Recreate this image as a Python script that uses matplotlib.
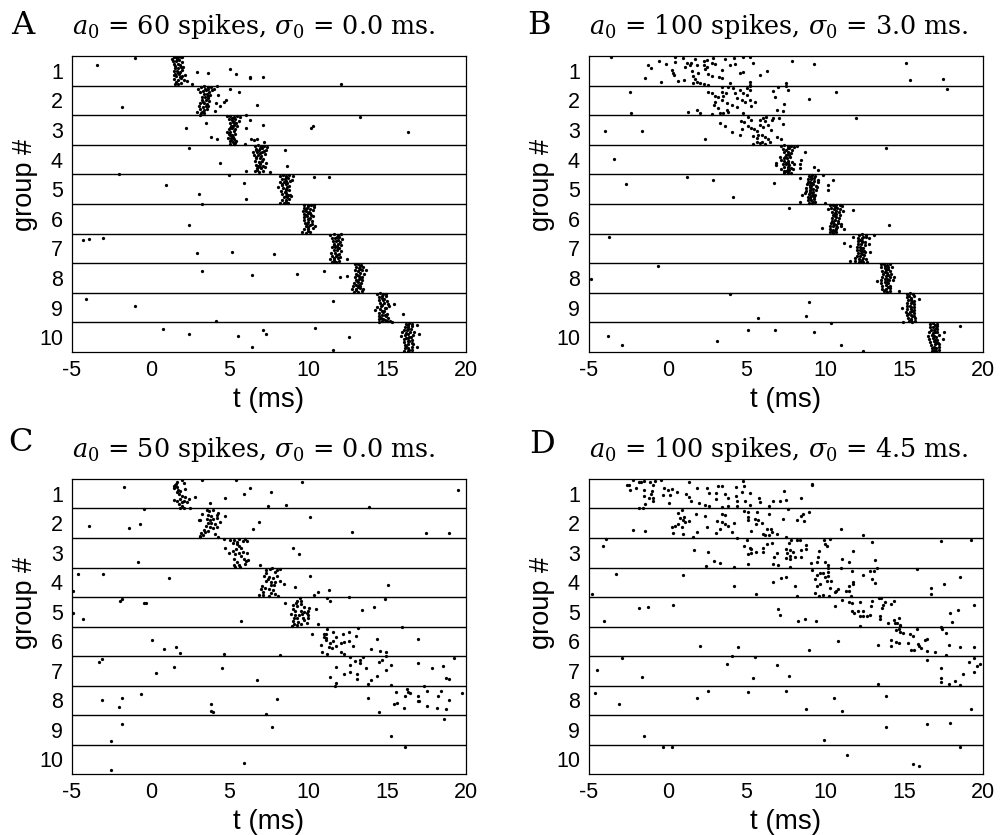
import matplotlib
matplotlib.use("Agg")
import matplotlib.pyplot as plt

titles = [r"$a_0$ = 60 spikes, $\sigma_0$ = 0.0 ms.", r"$a_0$ = 100 spikes, $\sigma_0$ = 3.0 ms.",
          r"$a_0$ = 50 spikes, $\sigma_0$ = 0.0 ms.", r"$a_0$ = 100 spikes, $\sigma_0$ = 4.5 ms."]
letters = ["A", "B", "C", "D"]
groups = [1, 2, 3, 4, 5, 6, 7, 8, 9, 10]
t_ticks = [-5, 0, 5, 10, 15, 20]

# (t in ms, position on the group axis)
a_bursts = [
 (1.45,.52),(1.6,.54),(1.75,.53),(1.9,.55),(2.0,.52),(1.4,.68),(1.6,.66),(1.8,.63),(1.95,.7),(1.5,.78),(1.7,.76),(1.85,.8),(1.55,.9),(1.7,.92),(1.9,.88),(2.05,.86),(1.5,1.02),(1.65,1.0),(1.85,1.04),(2.0,.98),(1.45,1.14),(1.6,1.18),(1.8,1.12),(1.95,1.16),(2.15,1.14),(1.5,1.28),(1.7,1.3),(1.9,1.26),(2.1,1.32),(2.3,1.36),(1.55,1.44),(1.75,1.46),(1.9,1.42),
 (3.0,1.6),(3.2,1.55),(3.4,1.53),(3.6,1.54),(3.8,1.56),(4.0,1.6),(3.3,1.68),(3.5,1.66),(3.7,1.7),(3.9,1.64),(3.35,1.8),(3.55,1.78),(3.75,1.82),(3.45,1.9),(3.6,1.92),(3.25,1.98),(3.5,2.0),(3.7,2.02),(3.1,2.08),(3.4,2.1),(3.55,2.12),(3.05,2.2),(3.3,2.22),(3.5,2.2),(3.15,2.3),(3.35,2.32),(3.55,2.28),(2.95,2.4),(3.2,2.42),(3.4,2.44),(3.15,2.48),
 (4.85,2.54),(5.05,2.52),(5.25,2.55),(5.45,2.53),(5.65,2.56),(4.95,2.64),(5.15,2.66),(5.35,2.62),(5.6,2.68),(5.0,2.76),(5.2,2.74),(5.4,2.78),(5.1,2.86),(5.3,2.84),(5.5,2.88),(4.95,2.96),(5.15,2.94),(5.35,2.98),(4.85,3.06),(5.05,3.08),(5.25,3.04),(5.0,3.16),(5.15,3.18),(5.35,3.14),(4.9,3.28),(5.1,3.26),(5.3,3.3),(5.0,3.38),(5.2,3.4),(5.4,3.36),(5.05,3.46),(5.25,3.47),
 (6.6,3.54),(6.8,3.52),(7.0,3.55),(7.2,3.53),(7.4,3.56),(6.65,3.64),(6.85,3.66),(7.05,3.62),(7.3,3.68),(6.5,3.76),(6.75,3.74),(6.95,3.78),(7.2,3.72),(6.55,3.86),(6.8,3.84),(7.0,3.88),(7.25,3.82),(6.7,3.96),(6.9,3.94),(7.15,3.98),(6.6,4.06),(6.85,4.08),(7.05,4.04),(7.3,4.1),(6.65,4.18),(6.9,4.16),(7.15,4.2),(6.75,4.28),(7.0,4.3),(7.25,4.26),(6.6,4.4),(6.85,4.42),(7.1,4.38),
 (8.2,4.54),(8.4,4.52),(8.6,4.55),(8.8,4.53),(9.0,4.56),(8.3,4.64),(8.5,4.66),(8.7,4.62),(8.95,4.68),(8.2,4.76),(8.45,4.74),(8.65,4.78),(8.85,4.72),(8.35,4.86),(8.55,4.84),(8.75,4.88),(8.1,4.94),(8.4,4.96),(8.6,4.98),(8.25,5.06),(8.5,5.08),(8.75,5.04),(8.35,5.16),(8.6,5.14),(8.85,5.18),(8.45,5.26),(8.65,5.28),(8.9,5.24),(8.3,5.36),(8.55,5.38),(8.8,5.34),(8.2,5.46),(8.45,5.47),(8.7,5.45),
 (9.75,5.53),(9.95,5.52),(10.15,5.54),(10.35,5.52),(9.7,5.64),(9.9,5.62),(10.1,5.66),(10.35,5.6),(9.65,5.74),(9.85,5.72),(10.05,5.76),(10.3,5.7),(9.75,5.84),(9.95,5.82),(10.15,5.86),(9.7,5.94),(9.9,5.92),(10.1,5.96),(10.3,5.9),(9.75,6.04),(9.95,6.02),(10.2,6.06),(9.8,6.14),(10.0,6.12),(10.25,6.16),(9.85,6.24),(10.1,6.22),(10.4,6.26),(9.75,6.34),(10.0,6.36),(10.3,6.32),(9.6,6.46),(9.85,6.47),(10.1,6.44),
 (11.4,6.54),(11.65,6.52),(11.85,6.55),(12.05,6.53),(11.5,6.64),(11.7,6.66),(11.95,6.62),(12.15,6.68),(11.55,6.76),(11.75,6.74),(12.0,6.78),(11.6,6.86),(11.85,6.84),(12.1,6.88),(11.5,6.96),(11.7,6.94),(11.95,6.98),(11.6,7.06),(11.8,7.04),(12.05,7.08),(11.45,7.16),(11.7,7.14),(11.95,7.18),(11.5,7.26),(11.75,7.24),(12.0,7.28),(11.4,7.36),(11.65,7.38),(11.9,7.34),(11.5,7.46),(11.75,7.47),(11.95,7.44),
 (12.95,7.54),(13.15,7.52),(13.35,7.55),(13.0,7.64),(13.2,7.66),(13.45,7.62),(12.95,7.74),(13.15,7.76),(13.4,7.72),(13.65,7.74),(13.0,7.86),(13.25,7.84),(13.5,7.88),(12.95,7.96),(13.2,7.94),(13.4,7.98),(13.0,8.06),(13.2,8.04),(13.4,8.08),(12.9,8.16),(13.15,8.14),(13.35,8.18),(12.8,8.26),(13.05,8.24),(13.3,8.28),(12.75,8.36),(13.0,8.38),(13.25,8.34),(13.45,8.36),(12.9,8.46),(13.15,8.47),(13.4,8.44),
 (14.35,8.54),(14.55,8.52),(14.75,8.55),(14.95,8.53),(14.45,8.64),(14.65,8.66),(14.9,8.62),(14.5,8.76),(14.75,8.74),(15.0,8.78),(14.55,8.86),(14.8,8.84),(15.05,8.88),(14.35,8.98),(14.6,8.96),(14.85,9.0),(15.1,8.96),(14.25,9.08),(14.55,9.06),(14.8,9.1),(14.5,9.18),(14.75,9.16),(15.0,9.2),(14.45,9.28),(14.7,9.26),(14.95,9.3),(14.5,9.38),(14.75,9.4),(15.05,9.36),(14.45,9.47),(14.7,9.46),(15.0,9.45),(15.2,9.44),
 (16.2,9.54),(16.4,9.52),(16.6,9.55),(16.1,9.64),(16.3,9.66),(16.55,9.62),(16.05,9.74),(16.25,9.76),(16.5,9.72),(15.95,9.84),(16.2,9.86),(16.45,9.82),(16.7,9.84),(15.9,9.96),(16.15,9.94),(16.4,9.98),(16.65,9.92),(16.05,10.06),(16.3,10.04),(16.55,10.08),(16.05,10.16),(16.3,10.14),(16.55,10.18),(16.1,10.26),(16.35,10.24),(16.65,10.22),(16.1,10.36),(16.35,10.38),(16.6,10.34),(16.05,10.46),(16.3,10.47),(16.55,10.44)]

a_fill = [(1.35,.6),(1.65,.6),(1.55,.84),(1.75,1.08),(1.55,1.1),(1.85,1.22),(1.62,1.38),
 (3.1,1.72),(3.45,1.6),(3.6,1.62),(3.25,1.88),(3.65,1.84),(3.3,2.05),(3.6,2.18),(3.25,2.38),
 (5.15,2.59),(5.25,2.72),(5.2,2.85),(5.05,2.92),(4.95,3.12),(5.2,3.24),(5.1,3.33),(5.35,3.44),
 (6.95,3.6),(6.7,3.68),(6.7,3.9),(7.05,3.76),(6.95,4.1),(6.8,4.22),(6.95,4.24),(6.75,4.36),
 (8.6,4.6),(8.55,4.72),(8.65,4.92),(8.3,4.82),(8.6,5.02),(8.7,5.2),(8.55,5.22),(8.55,5.42),
 (10.0,5.58),(9.8,5.68),(10.1,5.8),(9.85,5.88),(10.05,6.0),(9.9,6.18),(10.0,6.28),(9.95,6.42),
 (11.8,6.6),(11.85,6.7),(11.8,6.92),(11.65,6.9),(11.9,7.0),(11.8,7.22),(11.65,7.32),(11.65,7.44),
 (13.25,7.6),(13.3,7.7),(13.1,7.9),(13.3,8.0),(13.1,8.1),(13.2,8.22),(13.15,8.32),(13.05,8.42),
 (14.7,8.6),(14.8,8.7),(14.7,8.92),(14.95,9.02),(14.65,9.12),(14.85,9.24),(14.6,9.34),(14.85,9.42),
 (16.35,9.6),(16.35,9.72),(16.3,9.9),(16.5,10.0),(16.2,10.02),(16.4,10.12),(16.2,10.3),(16.4,10.42)]

a_strays = [(-3.4,.8),(-1.03,.57),(2.94,1.05),(3.64,1.06),(5.01,.94),(5.43,1.12),(6.32,1.2),(6.32,1.24),(7.1,1.2),(12.08,1.43),(2.64,1.46),
 (-1.81,2.23),(5.01,1.61),(5.62,1.71),(6.72,2.16),(4.78,1.99),(4.67,2.04),(4.42,2.19),(4.25,1.81),(4.14,2.1),(4.1,2.35),(4.2,1.53),
 (2.26,2.93),(3.53,2.76),(13.26,2.56),(10.27,2.88),(10.18,2.94),(16.33,3.07),(3.85,3.22),(4.23,3.31),(6.32,2.66),(7.1,2.84),(6.02,2.94),(6.02,2.5),(6.38,3.31),(6.53,3.33),(6.74,3.29),(5.96,3.47),
 (2.45,3.6),(4.42,4.11),(8.49,3.68),(8.64,4.2),(6.02,4.38),(4.95,4.51),(-2.02,4.47),(7.58,4.43),(7.2,3.4),
 (.98,4.86),(3.04,5.16),(5.92,4.8),(6.02,5.32),(10.37,4.59),(11.28,4.59),(3.23,5.5),(2.45,6.22),
 (-4.28,6.71),(-3.9,6.69),(-3.02,6.65),(2.94,7.15),(5.14,7.11),(7.82,7.19),(12.48,7.35),
 (3.23,7.76),(6.42,7.9),(9.29,7.85),(10.98,7.76),(11.98,7.98),(12.46,7.92),
 (-4.09,8.71),(-1.03,8.93),(11.58,8.77),(15.46,8.88),(16.03,9.22),(4.14,9.44),(15.29,9.47),
 (.76,9.72),(2.45,9.9),(5.54,9.97),(6.42,10.32),(7.1,9.77),(7.31,9.9),(10.39,9.7),(11.58,10.44),(12.57,10.0),(16.92,9.6),(17.04,9.88),(16.92,10.32)]

b_bursts = [
 (7.2,3.54),(7.4,3.52),(7.6,3.55),(7.8,3.53),(8.0,3.56),(7.3,3.64),(7.5,3.66),(7.7,3.62),(7.9,3.68),(7.4,3.76),(7.6,3.74),(7.8,3.78),(7.5,3.86),(7.7,3.84),(7.15,3.92),(7.35,3.94),(7.55,3.96),(7.75,3.92),(7.2,4.02),(7.4,4.06),(7.6,4.04),(7.85,4.08),(6.85,4.12),(6.85,4.18),(7.3,4.16),(7.5,4.14),(7.7,4.18),(8.0,4.14),(7.4,4.26),(7.6,4.24),(7.8,4.28),(7.2,4.32),(7.5,4.38),(7.7,4.36),(7.95,4.32),(7.4,4.45),(7.6,4.46),(7.8,4.44),
 (8.95,4.54),(9.15,4.52),(9.35,4.55),(8.9,4.64),(9.1,4.66),(9.3,4.62),(9.55,4.68),(8.9,4.74),(9.05,4.76),(9.25,4.72),(9.5,4.76),(8.85,4.84),(9.0,4.86),(9.2,4.82),(9.4,4.88),(8.75,4.96),(9.0,4.94),(9.2,4.98),(9.45,4.92),(8.8,5.06),(9.0,5.04),(9.2,5.08),(9.4,5.02),(8.7,5.14),(8.95,5.16),(9.15,5.12),(9.35,5.18),(8.9,5.26),(9.1,5.24),(9.3,5.28),(8.9,5.36),(9.1,5.38),(9.3,5.34),(8.95,5.45),(9.15,5.47),(9.35,5.44),
 (10.3,5.54),(10.5,5.52),(10.7,5.55),(10.9,5.53),(11.05,5.56),(10.35,5.64),(10.55,5.66),(10.75,5.62),(10.95,5.68),(10.45,5.76),(10.65,5.74),(10.85,5.78),(11.1,5.74),(10.5,5.86),(10.7,5.84),(10.9,5.88),(10.45,5.96),(10.65,5.94),(10.85,5.96),(10.4,6.06),(10.6,6.04),(10.8,6.08),(10.35,6.14),(10.55,6.16),(10.8,6.14),(11.0,6.18),(10.3,6.26),(10.5,6.24),(10.75,6.28),(11.0,6.26),(10.3,6.36),(10.5,6.38),(10.7,6.34),(11.15,6.36),(10.3,6.46),(10.5,6.47),(10.7,6.45),
 (12.15,6.54),(12.35,6.52),(12.55,6.55),(12.1,6.64),(12.3,6.66),(12.55,6.62),(12.75,6.66),(12.1,6.76),(12.3,6.74),(12.5,6.78),(12.05,6.86),(12.25,6.84),(12.5,6.88),(12.0,6.96),(12.2,6.94),(12.4,6.98),(12.0,7.06),(12.2,7.04),(12.45,7.08),(12.05,7.14),(12.25,7.16),(12.5,7.12),(12.0,7.24),(12.2,7.26),(12.45,7.22),(11.9,7.34),(12.15,7.36),(12.4,7.32),(12.6,7.36),(11.9,7.44),(12.15,7.46),(12.4,7.45),(12.65,7.47),
 (13.5,7.54),(13.7,7.52),(13.9,7.55),(14.1,7.53),(13.55,7.64),(13.75,7.66),(14.0,7.62),(14.25,7.64),(13.6,7.76),(13.85,7.74),(14.1,7.78),(13.65,7.86),(13.9,7.84),(14.15,7.88),(13.6,7.96),(13.85,7.94),(14.1,7.98),(14.35,7.96),(13.55,8.06),(13.8,8.04),(14.05,8.08),(14.3,8.06),(13.5,8.16),(13.75,8.14),(14.0,8.18),(13.6,8.26),(13.85,8.24),(14.1,8.28),(13.6,8.36),(13.85,8.38),(14.1,8.34),(13.7,8.45),(13.9,8.47),(14.1,8.44),
 (15.15,8.54),(15.35,8.52),(15.55,8.55),(15.2,8.64),(15.4,8.66),(15.6,8.62),(15.25,8.76),(15.45,8.74),(15.65,8.78),(15.2,8.86),(15.4,8.84),(15.6,8.88),(15.15,8.96),(15.35,8.94),(15.6,8.98),(15.2,9.06),(15.4,9.04),(15.65,9.08),(15.1,9.16),(15.35,9.14),(15.6,9.18),(15.15,9.26),(15.4,9.24),(15.65,9.28),(15.25,9.36),(15.45,9.38),(15.7,9.34),(15.3,9.46),(15.5,9.47),(15.7,9.45),
 (16.65,9.54),(16.85,9.52),(17.05,9.55),(16.65,9.64),(16.85,9.66),(17.1,9.62),(16.7,9.74),(16.9,9.76),(17.1,9.72),(16.6,9.84),(16.8,9.86),(17.05,9.82),(16.5,9.96),(16.75,9.94),(17.0,9.98),(17.2,9.92),(16.6,10.06),(16.85,10.04),(17.1,10.08),(16.65,10.16),(16.9,10.14),(17.15,10.18),(16.7,10.26),(16.95,10.24),(17.2,10.22),(16.75,10.36),(17.0,10.38),(17.2,10.34),(16.75,10.46),(17.0,10.47),(17.2,10.44)]

b_fill = [(7.6,3.6),(7.65,3.82),(7.45,3.9),(7.5,4.1),(7.65,4.12),(7.6,4.32),(7.4,4.4),(7.6,4.4),
 (9.1,4.6),(9.15,4.8),(9.1,4.9),(9.1,5.0),(9.05,5.1),(9.2,5.2),(9.05,5.3),(9.2,5.42),
 (10.6,5.6),(10.6,5.8),(10.6,5.9),(10.5,6.1),(10.65,6.2),(10.65,6.3),(10.6,6.42),(10.4,6.4),
 (12.4,6.6),(12.2,6.7),(12.35,6.8),(12.3,6.98),(12.3,7.1),(12.3,7.2),(12.3,7.38),(12.25,7.44),
 (13.8,7.6),(13.95,7.7),(13.8,7.8),(13.95,7.9),(13.9,8.02),(13.9,8.12),(13.95,8.3),(13.8,8.42),
 (15.3,8.6),(15.4,8.7),(15.5,8.82),(15.4,8.98),(15.5,9.1),(15.25,9.2),(15.5,9.3),(15.4,9.42),
 (16.95,9.6),(17.0,9.7),(16.95,9.82),(16.9,9.96),(16.95,10.1),(17.0,10.2),(16.9,10.32),(16.9,10.42)]

b_strays = [(-3.6,.53),(-.54,.66),(-1.24,.8),(-1.07,.92),(-1.43,1.24),(-.44,1.37),(-.14,.77),(.45,.54),(.45,.7),(.94,.57),(.24,.97),(.3,1.08),(.41,1.15),(.66,1.35),(1.04,1.31),(1.09,.88),(1.19,.75),(1.4,.8),(1.47,.72),(1.51,.99),(1.72,.61),(1.83,.8),(1.61,1.17),(1.93,1.08),(1.72,1.29),(1.83,1.37),(1.61,1.42),(2.04,1.4),(2.29,1.46),(2.57,1.48),(2.29,.66),(2.46,.63),(2.84,.58),(2.29,.8),(2.5,.86),(2.35,.95),(2.78,.72),(2.99,.77),(2.57,1.11),(2.82,1.17),(3.41,.97),(3.26,1.2),(3.47,1.25),(3.66,.61),(4.21,.57),(3.94,.8),(4.26,.77),(4.78,.52),(5.2,.55),(5.42,.72),(4.57,1.08),(4.78,1.03),(5.84,1.15),(6.31,1.02),(7.91,.68),(9.29,.78),(15.14,.74),(15.35,1.3),(17.44,1.28),(3.94,1.42),(5.2,1.39),(5.2,1.48),
 (-2.42,1.71),(-2.34,2.44),(1.26,2.38),(1.83,2.33),(2.04,2.42),(2.78,2.46),(2.57,1.72),(2.78,1.76),(2.99,1.84),(3.2,1.9),(3.41,1.98),(2.99,2.04),(2.95,2.15),(3.2,2.26),(3.52,1.84),(3.69,1.76),(3.41,1.54),(3.45,1.7),(3.83,1.54),(4.15,1.59),(4.26,1.76),(4.57,1.65),(4.78,1.76),(5.0,1.59),(5.0,1.81),(4.36,1.93),(4.68,1.98),(4.89,2.07),(5.2,1.98),(5.52,2.04),(5.31,2.19),(3.73,2.1),(4.05,2.15),(4.36,2.23),(4.78,2.43),(3.73,2.32),(3.52,2.41),(3.31,2.43),(3.83,2.38),(6.69,1.67),(7.0,1.56),(7.49,1.42),(7.53,1.53),(7.6,1.65),(6.81,1.9),(7.4,2.12),(6.9,2.33),(7.28,2.37),(8.99,1.95),(10.68,1.7),(17.74,1.61),(5.2,1.52),(5.2,1.65),
 (11.97,2.6),(-4.0,3.04),(-1.62,3.03),(2.35,3.3),(3.33,2.78),(3.64,2.87),(4.05,3.08),(4.57,3.17),(4.72,2.97),(4.64,2.68),(4.85,2.74),(5.1,2.55),(5.31,2.66),(5.1,2.86),(5.25,2.92),(5.46,2.97),(5.63,3.05),(5.42,3.2),(5.63,3.28),(5.42,3.48),(5.63,3.39),(5.84,2.66),(6.01,2.6),(6.16,2.71),(5.84,2.83),(6.05,2.9),(6.37,2.83),(6.52,3.0),(5.95,3.16),(6.16,3.24),(6.37,3.31),(5.95,3.39),(6.16,3.47),(6.47,3.39),(6.9,3.24),(7.21,3.29),(6.69,2.58),(7.05,2.58),(7.33,2.81),(5.84,3.44),(5.74,3.16),(6.26,2.55),(6.58,2.66),
 (13.87,3.6),(-3.42,3.98),(8.21,3.55),(8.69,3.76),(8.48,4.03),(8.38,4.14),(8.38,4.29),
 (-2.63,4.81),(1.23,4.58),(2.84,4.68),(4.13,5.28),(6.71,4.79),(9.29,4.24),(9.5,4.35),(9.86,4.52),(10.49,4.7),(10.17,4.86),(10.17,5.03),(8.4,4.63),(8.4,5.42),(8.5,5.2),(9.96,5.45),
 (7.7,5.62),(9.79,6.31),(11.76,5.69),(14.06,6.2),(10.17,5.67),
 (-3.71,6.61),(11.19,6.81),(11.57,6.92),(11.76,6.63),(13.07,6.56),(11.59,7.43),(12.86,7.11),(12.78,6.85),
 (-.65,7.59),(-4.9,8.03),(13.28,8.1),(14.65,8.43),
 (3.94,8.55),(8.99,8.81),(8.8,9.27),(5.71,9.35),(10.38,9.51),(14.93,9.49),(15.94,8.72),(14.89,9.0),
 (-3.82,9.97),(-2.93,10.27),(3.14,10.13),(5.12,9.77),(6.81,9.74),(9.29,9.81),(11.0,10.25),(12.37,10.46),(18.52,9.61),(17.53,9.81),(17.46,10.06)]

c_bursts = [
 (1.46,.73),(1.57,.67),(1.67,.78),(1.46,.8),(2.13,.63),(2.2,.83),(1.67,.95),(1.78,1.0),(1.99,1.06),(2.2,1.11),(2.41,1.17),(1.46,1.2),(1.67,1.23),(1.88,1.17),(2.09,1.23),(1.78,1.34),(1.99,1.4),(2.31,1.29),(2.48,1.47),(1.84,1.49),(2.09,1.49),(1.67,.61),(1.71,.86),(1.55,.72),(1.85,.9),(1.95,1.28),
 (3.25,1.68),(3.1,1.88),(3.55,1.55),(3.7,1.6),(3.95,1.56),(4.25,1.64),(3.6,1.72),(3.85,1.75),(4.2,1.72),(3.55,1.85),(3.75,1.88),(3.95,1.85),(4.2,1.82),(3.6,2.0),(3.8,1.98),(4.05,2.02),(4.4,1.95),(3.5,2.1),(3.75,2.12),(3.95,2.16),(4.2,2.14),(3.4,2.22),(3.6,2.25),(3.2,2.32),(3.45,2.3),(3.1,2.42),(3.3,2.4),(3.15,2.47),(4.1,2.38),(4.25,2.45),
 (4.65,2.55),(5.0,2.58),(5.25,2.56),(5.45,2.62),(5.6,2.55),(5.85,2.6),(6.0,2.54),(6.1,2.6),(5.2,2.68),(5.45,2.72),(5.6,2.78),(5.75,2.85),(5.4,2.88),(5.2,2.95),(4.95,3.0),(5.35,3.05),(5.6,3.0),(5.85,2.98),(6.1,3.02),(5.75,3.12),(5.9,3.2),(5.25,3.2),(5.5,3.3),(6.05,3.28),(6.15,3.25),(5.3,3.4),(5.6,3.4),(5.95,3.38),(5.35,3.48),(5.65,3.47),
 (7.3,3.6),(7.55,3.56),(7.7,3.52),(8.0,3.58),(8.2,3.55),(7.9,3.66),(7.2,3.78),(7.3,3.7),(7.5,3.82),(7.45,3.9),(7.75,3.85),(8.0,3.78),(7.3,3.95),(7.6,3.98),(7.85,4.0),(8.2,3.95),(7.6,4.1),(7.8,4.08),(7.05,4.12),(7.25,4.2),(7.0,4.24),(7.5,4.22),(7.75,4.25),(7.15,4.32),(7.6,4.35),(7.9,4.4),(6.85,4.43),(7.15,4.42),(7.5,4.46),(8.05,4.47),
 (9.45,4.55),(9.3,4.62),(9.5,4.65),(9.2,4.72),(9.05,4.78),(9.3,4.8),(9.55,4.75),(9.75,4.85),(10.05,4.88),(9.0,4.92),(9.15,4.97),(9.5,4.98),(9.75,5.0),(10.0,4.96),(8.9,5.08),(9.15,5.1),(9.4,5.1),(9.6,5.07),(9.9,5.05),(10.0,5.12),(9.1,5.2),(9.3,5.22),(9.65,5.2),(9.95,5.22),(9.05,5.3),(9.35,5.34),(9.7,5.27),(9.1,5.42),(9.3,5.44),(9.5,5.42),(8.95,5.47),(9.9,5.38)]

c_strays = [(-1.71,.78),(-.44,1.51),(1.95,.53),(3.26,.53),(5.43,.52),(9.59,.61),(19.51,.88),(6.32,.8),(5.92,1.01),(7.61,.95),(4.73,1.15),(3.74,1.3),(7.42,1.41),(8.6,1.38),(13.86,1.44),(2.83,1.11),
 (-3.9,2.11),(-1.41,2.16),(-.71,2.01),(3.04,1.9),(4.73,1.77),(6.85,1.95),(6.51,2.19),(10.08,1.79),(12.76,2.3),(17.44,2.34),(18.92,2.32),
 (-.82,3.3),(9.0,2.84),(9.38,3.05),(6.91,3.4),(4.73,2.85),
 (-4.6,3.72),(-3.02,3.73),(1.17,3.87),(-4.96,4.31),(10.08,3.8),(9.17,4.15),(15.06,4.11),(11.28,4.26),(10.58,4.32),(10.37,4.42),(8.43,4.07),
 (-1.85,4.57),(-1.96,4.62),(-.33,4.69),(-.44,4.72),(-4.92,5.04),(-4.3,5.23),(5.73,5.33),(11.17,4.52),(11.38,4.62),(12.57,4.51),(14.87,4.56),(14.15,4.83),(13.37,4.94),(10.58,5.41),(10.48,4.89),(8.49,4.7),
 (.07,5.95),(.85,6.25),(1.57,6.21),(1.84,6.41),(4.63,6.42),(8.22,6.47),(10.2,5.74),(11.17,5.57),(10.96,5.77),(10.96,5.86),(11.09,5.77),(11.09,5.88),(11.09,5.96),(11.58,5.68),(11.77,5.86),(12.17,5.77),(12.57,5.67),(12.99,5.83),(11.58,6.0),(11.38,6.05),(10.79,6.14),(11.28,6.2),(11.47,6.24),(11.77,6.17),(12.08,6.05),(12.23,6.02),(12.57,6.0),(12.86,6.16),(10.88,6.38),(11.17,6.42),(12.08,6.38),(12.27,6.43),(13.96,6.26),(14.36,5.92),(14.55,6.34),(14.95,6.35),(14.95,6.51),(16.94,5.92),(15.95,5.51),(13.16,5.54),
 (-3.31,6.69),(-3.1,6.61),(.36,7.07),(1.46,6.87),(4.54,6.92),(6.72,7.33),(11.77,6.87),(11.36,7.21),(11.77,7.43),(11.66,7.53),(12.27,7.11),(12.67,6.81),(12.67,7.03),(12.97,6.68),(13.26,6.65),(13.26,6.75),(13.07,7.12),(13.07,7.29),(13.45,6.54),(13.66,6.9),(13.96,7.31),(13.75,7.44),(14.36,7.17),(14.45,6.71),(14.66,6.63),(14.95,6.96),(15.25,6.81),(16.94,6.75),(17.85,6.89),(18.54,6.84),(19.22,6.56),(18.73,7.24),(18.92,7.29),(12.67,6.54),(15.25,7.47),
 (-3.1,7.98),(-1.81,7.92),(-2.02,8.23),(-.63,7.79),(3.85,8.12),(3.85,8.37),(3.95,8.41),(8.0,7.97),(7.33,8.45),(13.75,7.92),(14.45,8.41),(15.54,7.71),(16.24,7.61),(16.35,7.72),(16.45,7.74),(16.14,7.87),(15.44,8.13),(15.65,8.11),(16.05,8.26),(16.94,7.85),(16.94,8.03),(17.04,8.02),(17.34,7.53),(17.53,7.7),(17.53,8.18),(18.14,8.27),(18.73,8.3),(18.23,7.84),(18.44,7.67),(18.92,7.99),(19.73,7.75),
 (-1.81,8.81),(-2.51,9.37),(7.71,8.91),(15.25,9.21),(18.63,8.63),
 (16.14,9.6),(5.92,10.13),(-2.51,10.37)]

d_spikes = [(-2.61,.7),(-2.44,.7),(-2.4,.86),(-2.23,.52),(-2.02,.8),(-1.81,.61),(-1.7,.61),(-1.53,.56),(-1.49,.86),(-1.53,1.06),(-1.2,1.15),(-1.13,.59),(-.92,.72),(-.82,.58),(-.44,.54),(-1.03,.92),(-1.09,1.01),(-.92,1.15),(-.92,1.26),(-1.43,1.34),(-1.81,1.49),(-1.56,1.47),(-.25,.79),(-.33,1.04),(.03,.86),(.24,.84),(.14,1.03),(.56,.95),(.07,1.32),(1.15,1.01),(1.34,.59),(1.36,1.12),(1.45,1.23),(1.85,.81),(2.46,.8),(2.63,.97),(2.0,1.32),(2.35,1.37),(2.63,1.4),(3.03,.99),(3.05,1.17),(3.2,.75),(3.47,.74),(3.64,1.02),(3.83,1.15),(3.83,1.4),(3.41,1.45),(4.32,.76),(4.32,1.08),(4.4,1.26),(4.4,1.4),(4.78,.56),(4.85,.75),(4.72,.93),(5.2,.97),(4.93,1.26),(5.2,1.37),(5.8,1.13),(5.84,1.29),(6.43,1.42),(6.69,1.23),(7.11,1.23),(7.49,1.22),(7.4,.89),(8.48,1.13),(9.12,.67),(9.18,.72),
 (-2.23,2.24),(-1.43,2.26),(.66,1.65),(.87,1.54),(.77,1.81),(1.02,1.79),(.98,1.9),(.24,2.13),(.45,2.08),(.66,2.02),(.87,2.13),(1.09,1.96),(1.36,1.94),(.35,2.34),(.98,2.38),(1.57,2.47),(1.85,2.3),(1.76,1.7),(2.35,1.74),(2.46,2.13),(3.03,2.33),(3.3,2.21),(3.14,1.93),(3.41,1.68),(3.62,1.71),(3.41,1.96),(3.62,2.03),(3.83,2.1),(4.05,2.28),(4.23,1.98),(4.42,2.49),(4.83,1.57),(5.1,1.62),(5.1,1.79),(5.1,1.9),(5.63,1.62),(5.52,1.87),(5.74,1.9),(5.95,1.98),(5.57,2.04),(5.31,2.25),(6.05,2.35),(6.16,2.41),(6.31,2.19),(6.52,2.21),(6.64,2.3),(6.39,2.39),(6.9,2.38),(6.41,1.7),(7.6,1.53),(7.3,1.85),(8.21,1.89),(8.55,1.68),(8.48,1.77),(8.63,1.93),(8.99,1.62),(10.98,2.21),(12.37,2.41),
 (-3.92,2.52),(-4.11,2.76),(1.64,2.92),(2.54,2.96),(2.95,3.29),(3.33,3.34),(2.44,3.44),(4.23,3.49),(5.12,3.39),(5.0,2.57),(4.83,2.77),(5.2,2.84),(5.31,2.88),(5.1,3.03),(5.31,3.01),(5.57,2.98),(6.01,2.84),(6.01,2.98),(6.31,2.72),(6.62,2.66),(6.71,3.15),(6.92,3.0),(6.69,3.37),(7.0,3.42),(7.49,2.46),(7.84,2.56),(7.7,2.66),(8.17,2.58),(8.38,2.58),(7.53,2.86),(7.78,2.89),(7.95,2.97),(7.57,3.01),(7.74,3.11),(7.53,3.17),(8.06,3.14),(7.78,3.22),(8.48,2.92),(8.48,3.16),(8.8,2.75),(8.8,2.88),(9.9,2.58),(10.28,2.52),(9.96,2.71),(10.07,2.77),(9.58,2.95),(9.54,3.14),(9.48,3.31),(9.1,3.35),(9.96,3.31),(10.17,3.4),(11.08,3.22),(11.48,3.31),(11.78,2.95),(12.96,2.63),(13.17,3.24),(17.32,2.6),(19.22,2.58),(7.78,3.48),
 (-3.31,3.72),(.96,3.75),(4.23,4.12),(-4.81,4.39),(5.61,4.4),(6.69,4.0),(7.21,3.86),(7.49,3.81),(8.1,4.14),(8.21,4.47),(9.18,3.57),(9.65,3.7),(9.86,3.67),(9.48,3.76),(9.33,3.89),(10.17,3.53),(10.17,3.65),(10.17,3.78),(10.0,3.81),(10.38,3.95),(10.11,3.95),(9.65,4.06),(9.48,4.14),(10.32,4.2),(9.33,4.36),(9.58,4.45),(9.86,4.42),(10.24,4.45),(10.6,4.34),(10.7,4.29),(10.81,4.23),(10.98,3.53),(11.29,4.29),(11.48,4.28),(11.48,4.12),(11.78,3.98),(11.78,4.07),(11.67,3.63),(12.37,3.75),(12.86,3.61),(13.07,3.61),(13.26,3.51),(12.96,3.9),(13.17,4.04),(11.65,4.45),(15.84,3.56),(16.73,4.21),(16.73,4.4),(17.53,4.05),(18.52,3.83),
 (-1.83,4.87),(-1.24,4.85),(.35,4.78),(-4.03,5.3),(7.0,4.89),(7.11,5.12),(8.29,5.31),(8.69,5.24),(9.39,5.32),(10.6,4.82),(11.08,4.6),(11.48,4.66),(11.67,4.72),(12.18,4.66),(12.96,4.63),(12.92,4.82),(13.41,4.52),(13.55,4.52),(13.77,4.68),(13.66,4.77),(13.62,4.88),(14.17,4.73),(14.36,4.65),(11.67,4.99),(11.8,5.05),(12.08,4.96),(12.4,4.98),(12.18,5.15),(12.4,5.14),(12.67,5.15),(12.86,5.1),(13.45,5.13),(13.45,5.24),(13.96,5.37),(14.36,5.28),(14.65,5.2),(14.44,5.39),(14.55,5.37),(14.76,5.46),(17.93,5.04),(18.41,4.95),(18.01,5.34),(19.42,4.76),(12.18,5.49),
 (2.06,6.15),(4.43,6.2),(8.99,6.29),(10.79,6.0),(13.36,6.12),(14.15,5.97),(14.15,6.16),(14.46,6.02),(14.65,6.06),(14.46,5.62),(14.65,5.59),(14.76,5.68),(14.95,5.71),(15.35,5.77),(15.54,5.81),(15.84,5.57),(15.24,6.07),(15.86,6.08),(15.95,6.15),(16.05,6.24),(15.45,6.28),(15.64,6.31),(16.34,5.96),(16.42,5.92),(16.42,6.33),(16.93,6.35),(17.32,5.52),(17.43,5.59),(17.64,5.71),(17.85,6.13),(18.52,6.21),(19.42,6.19),(17.64,6.46),(14.76,5.47),
 (-2.93,6.56),(-4.51,6.98),(-1.64,7.2),(3.73,6.76),(4.05,6.49),(5.52,6.52),(5.42,7.24),(6.9,6.82),(7.7,7.18),(13.36,7.44),(16.42,6.65),(17.32,6.89),(17.32,7.26),(17.32,7.38),(17.85,7.44),(18.22,7.36),(18.52,7.48),(18.73,7.12),(19.11,6.71),(19.42,6.57),(19.42,7.03),(19.62,6.83),(19.81,6.78),
 (-4.62,7.77),(-3.12,8.14),(1.85,7.92),(2.54,7.68),(5.12,7.73),(7.51,7.67),(8.8,8.31),(10.57,7.91),(11.08,8.38),(13.87,7.87),(19.22,8.29),
 (-1.53,9.22),(9.9,9.35),(13.87,8.92),(16.42,8.8),(17.93,8.76),
 (-.33,9.6),(.26,9.6),(11.38,9.87),(15.54,10.15),(15.95,10.22),(18.52,9.57)]

W, H = 1000, 835
plt.rcParams["mathtext.fontset"] = "dejavuserif"
fig = plt.figure(figsize=(W / 100, H / 100), dpi=100)
sans = ["Liberation Sans", "DejaVu Sans"]
serif = ["DejaVu Serif"]

# left, right, top, bottom, letter x, title baseline, letter baseline, y-label x, y-label centre
boxes = [(72, 466, 56, 352, 11, 34, 34, 25, 185), (589, 983, 56, 352, 527, 34, 34, 542, 185),
         (72, 466, 479, 774, 8, 457, 451, 25, 603), (589, 983, 479, 774, 529, 457, 453, 542, 603)]
panels = [a_bursts + a_fill + a_strays, b_bursts + b_fill + b_strays, c_bursts + c_strays, d_spikes]

for box, spikes, title, letter in zip(boxes, panels, titles, letters):
    l, r, top, bot, lx, base, lbase, gx, gy = box
    ax = fig.add_axes([l / W, 1 - bot / H, (r - l) / W, (bot - top) / H])
    ts, ys = zip(*spikes)
    ax.scatter(ts, ys, s=5.5, c="black", linewidths=0, zorder=3)
    ax.set_xlim(-5, 20)
    ax.set_ylim(10.5, 0.5)
    for g in groups[:-1]:
        ax.axhline(g + 0.5, color="black", lw=1.0, zorder=2)
    ax.set_xticks(t_ticks)
    ax.set_yticks(groups)
    ax.set_xticklabels([str(v) for v in t_ticks], family=sans, fontsize=15.5)
    ax.set_yticklabels([str(v) for v in groups], family=sans, fontsize=15.5)
    ax.tick_params(axis="y", length=0, pad=6.5)
    ax.tick_params(axis="x", length=0, pad=5.5)
    for s in ax.spines.values():
        s.set_linewidth(0.9)
    ax.set_xlabel("t (ms)", family=sans, fontsize=20, labelpad=4.5)
    fig.text(gx / W, 1 - gy / H, "group #", family=sans, fontsize=19.5,
             rotation=90, ha="center", va="center")
    fig.text(l / W, 1 - base / H, title, family=serif, fontsize=18.4,
             ha="left", va="baseline")
    fig.text(lx / W, 1 - lbase / H, letter, family=serif, fontsize=23,
             ha="left", va="baseline")

fig.savefig("out.png", dpi=100, facecolor="white")
